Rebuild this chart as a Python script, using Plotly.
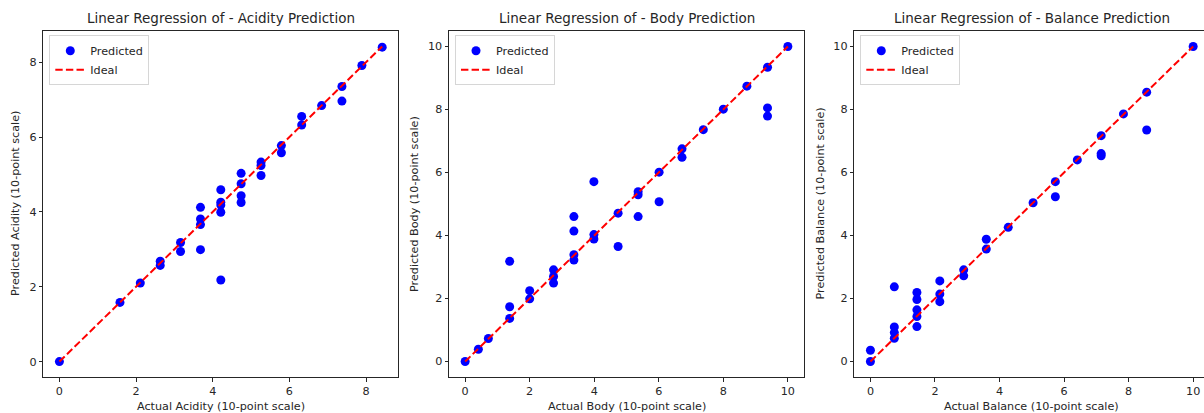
import plotly.graph_objects as go

W, H = 1204, 413

# ---------------- data ----------------
acid_actual = [0.0, 1.58, 2.11, 2.63, 2.63, 3.16, 3.16, 3.68, 3.68, 3.68, 3.68,
               4.21, 4.21, 4.21, 4.21, 4.21, 4.74, 4.74, 4.74, 4.74,
               5.26, 5.26, 5.26, 5.79, 5.79, 6.32, 6.32, 6.84, 7.37, 7.37, 7.89, 8.42]
acid_pred = [0.0, 1.58, 2.10, 2.68, 2.57, 3.18, 2.94, 4.12, 3.81, 3.66, 2.99,
             4.59, 4.26, 4.18, 3.99, 2.18, 5.03, 4.75, 4.43, 4.25,
             5.33, 5.24, 4.97, 5.77, 5.58, 6.55, 6.32, 6.84, 7.35, 6.96, 7.91, 8.40]

body_actual = [0.0, 0.41, 0.72, 1.38, 1.38, 1.38, 2.0, 2.0, 2.74, 2.74, 2.74,
               3.37, 3.37, 3.37, 3.37, 3.99, 3.99, 3.99, 4.74, 4.74,
               5.36, 5.36, 5.36, 6.01, 6.01, 6.72, 6.72, 7.38, 8.0, 8.73,
               9.37, 9.37, 9.37, 10.0]
body_pred = [0.0, 0.39, 0.73, 3.18, 1.74, 1.37, 2.25, 1.99, 2.91, 2.70, 2.49,
             4.60, 4.14, 3.39, 3.22, 5.71, 4.03, 3.89, 4.71, 3.65,
             5.39, 5.29, 4.60, 6.01, 5.07, 6.75, 6.48, 7.36, 8.01, 8.74,
             9.34, 8.05, 7.79, 10.0]

bal_actual = [0.0, 0.0, 0.74, 0.74, 0.74, 0.74, 1.44, 1.44, 1.44, 1.44, 1.44,
              2.15, 2.15, 2.15, 2.89, 2.89, 3.59, 3.59, 4.27, 5.04,
              5.73, 5.73, 6.41, 7.15, 7.15, 7.15, 7.84, 8.56, 8.56, 10.0]
bal_pred = [0.0, 0.36, 2.37, 1.10, 0.92, 0.74, 2.19, 1.97, 1.64, 1.43, 1.11,
            2.56, 2.14, 1.90, 2.91, 2.72, 3.88, 3.57, 4.26, 5.04,
            5.71, 5.23, 6.40, 7.17, 6.60, 6.53, 7.86, 8.55, 7.35, 10.0]

names = ["Acidity", "Body", "Balance"]
actuals = [acid_actual, body_actual, bal_actual]
preds = [acid_pred, body_pred, bal_pred]
xtick_sets = [[0, 2, 4, 6, 8], [0, 2, 4, 6, 8, 10], [0, 2, 4, 6, 8, 10]]
ytick_sets = [[0, 2, 4, 6, 8], [0, 2, 4, 6, 8, 10], [0, 2, 4, 6, 8, 10]]

# ---------------- layout geometry (px) ----------------
panel_left = [43.3, 449.0, 854.3]
panel_right = [398.3, 804.0, 1204.0]
panel_top, panel_bottom = 30.7, 377.3
xranges = [[-0.42, 8.84], [-0.5, 10.5], [-0.5, 10.336]]
yranges = [[-0.42, 8.84], [-0.5, 10.5], [-0.5, 10.5]]
ylabel_x = [15.0, 414.0, 819.5]
title_centers = [220.8, 626.5, 1031.8]

FONT = "DejaVu Sans"
TXT = "#262626"
AX = "#262626"
FS = 11.2
TFS = 13.5


def px(x):
    return x / W


def py(y):
    return 1 - y / H


fig = go.Figure()
annotations = []

for i in range(3):
    n = "" if i == 0 else str(i + 1)
    xa, ya = "x" + n, "y" + n
    leg = "legend" + n
    a, p = actuals[i], preds[i]
    lo, hi = min(a), max(a)
    fig.add_trace(go.Scatter(
        x=a, y=p, mode="markers", name="Predicted",
        marker=dict(color="#0000ff", size=9, line=dict(width=0)),
        xaxis=xa, yaxis=ya, legend=leg, showlegend=True))
    fig.add_trace(go.Scatter(
        x=[lo, hi], y=[lo, hi], mode="lines", name="Ideal",
        line=dict(color="#ff0000", width=2, dash="7.4px,3.2px"),
        xaxis=xa, yaxis=ya, legend=leg, showlegend=True))

    axis_common = dict(
        showgrid=False, zeroline=False, showline=True, linecolor=AX, linewidth=1,
        ticks="outside", ticklen=3.5, tickwidth=1, tickcolor=AX,
        tickfont=dict(family=FONT, size=FS, color=TXT), automargin=False,
        fixedrange=True)
    fig.layout["xaxis" + n] = dict(
        axis_common, domain=[px(panel_left[i]), px(panel_right[i])],
        range=xranges[i], tickvals=xtick_sets[i], anchor=ya, mirror=True)
    fig.layout["yaxis" + n] = dict(
        axis_common, domain=[py(panel_bottom), py(panel_top)],
        range=yranges[i], tickvals=ytick_sets[i], anchor=xa,
        mirror=(i < 2))

    fig.layout[leg] = dict(
        x=px(panel_left[i] + 6), y=py(panel_top + 4.5), xanchor="left", yanchor="top",
        bgcolor="rgba(255,255,255,0.8)", bordercolor="#d6d6d6", borderwidth=1,
        font=dict(family=FONT, size=FS, color=TXT), tracegroupgap=0,
        itemwidth=30)

    annotations.append(dict(
        text=f"Linear Regression of - {names[i]} Prediction", x=px(title_centers[i]),
        y=py(18.0), xref="paper", yref="paper", xanchor="center", yanchor="middle",
        showarrow=False, font=dict(family=FONT, size=TFS, color=TXT)))
    annotations.append(dict(
        text=f"Actual {names[i]} (10-point scale)",
        x=px(panel_left[i] + 177.5), y=py(406.0),
        xref="paper", yref="paper", xanchor="center", yanchor="middle",
        showarrow=False, font=dict(family=FONT, size=FS, color=TXT)))
    annotations.append(dict(
        text=f"Predicted {names[i]} (10-point scale)", x=px(ylabel_x[i]),
        y=py((panel_top + panel_bottom) / 2), xref="paper", yref="paper",
        xanchor="center", yanchor="middle", textangle=-90,
        showarrow=False, font=dict(family=FONT, size=FS, color=TXT)))

fig.update_layout(
    width=W, height=H, margin=dict(l=0, r=0, t=0, b=0, pad=0),
    paper_bgcolor="white", plot_bgcolor="white",
    annotations=annotations,
    font=dict(family=FONT, size=FS, color=TXT))

fig.write_html("out.html", config={"displayModeBar": False})
